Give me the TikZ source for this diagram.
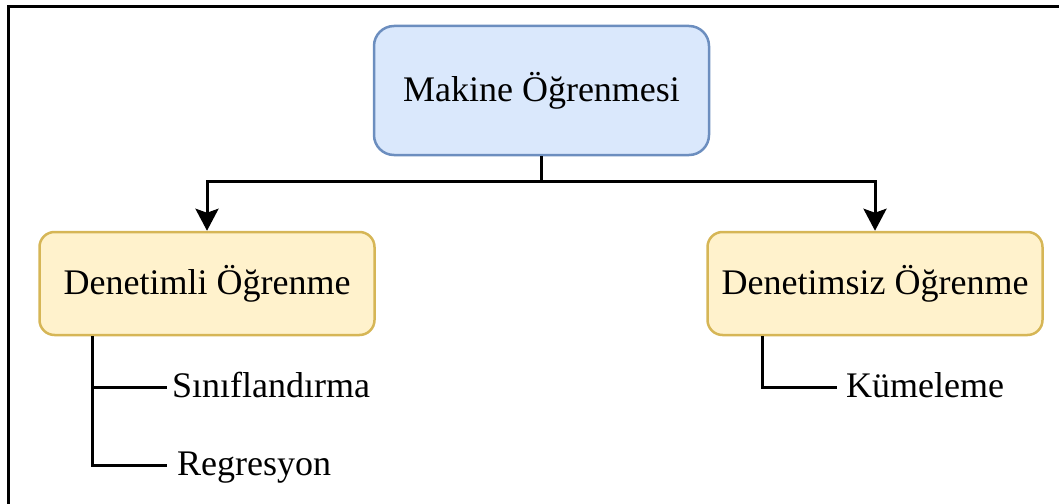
\documentclass[tikz,border=0pt]{standalone}
\usepackage{fontspec}
\setmainfont{Liberation Serif}
\usetikzlibrary{arrows.meta}
\definecolor{blueFill}{HTML}{DAE8FC}
\definecolor{blueLine}{HTML}{6C8EBF}
\definecolor{yellowFill}{HTML}{FFF2CC}
\definecolor{yellowLine}{HTML}{D6B656}
\begin{document}
\begin{tikzpicture}[x=1pt,y=-1pt,
  every node/.style={font=\fontsize{36pt}{40pt}\selectfont},
  rootbox/.style={draw=blueLine,fill=blueFill,line width=2.5pt,rounded corners=20pt,
    minimum width=335pt,minimum height=129pt,inner sep=0pt},
  branchbox/.style={draw=yellowLine,fill=yellowFill,line width=2.5pt,rounded corners=15pt,
    minimum width=335pt,minimum height=103pt,inner sep=0pt},
  leaf/.style={anchor=west,inner ysep=0pt,inner xsep=5pt,text height=26pt,text depth=6pt},
  conn/.style={line width=3pt,-{Stealth[length=22pt,width=23pt,inset=4pt]}},
  tree/.style={line width=3pt}]
\useasboundingbox (0,0) rectangle (1059,503);
% outer frame (only left and top edges fall inside the page)
\draw[line width=3pt] (8,520) -- (8,6.5) -- (1080,6.5);

\node[rootbox] (ml) at (541.5,90.5) {Makine Öğrenmesi};
\node[branchbox] (dl) at (207,283.5) {Denetimli Öğrenme};
\node[branchbox] (du) at (875,283.5) {Denetimsiz Öğrenme};

\coordinate (split) at (541.5,181);
\draw[conn] (ml.south) -- (split) -| (dl.north);
\draw[conn] (ml.south) -- (split) -| (du.north);

\node[leaf] (sin) at (167,387) {Sınıflandırma};
\node[leaf,inner xsep=10pt] (reg) at (167,465) {Regresyon};
\node[leaf,inner xsep=9pt] (kum) at (837,387) {Kümeleme};

\draw[tree] ([xshift=-115pt]dl.south) |- (sin.west);
\draw[tree] ([xshift=-115pt]dl.south) |- (reg.west);
\draw[tree] ([xshift=-113pt]du.south) |- (kum.west);
\end{tikzpicture}
\end{document}
